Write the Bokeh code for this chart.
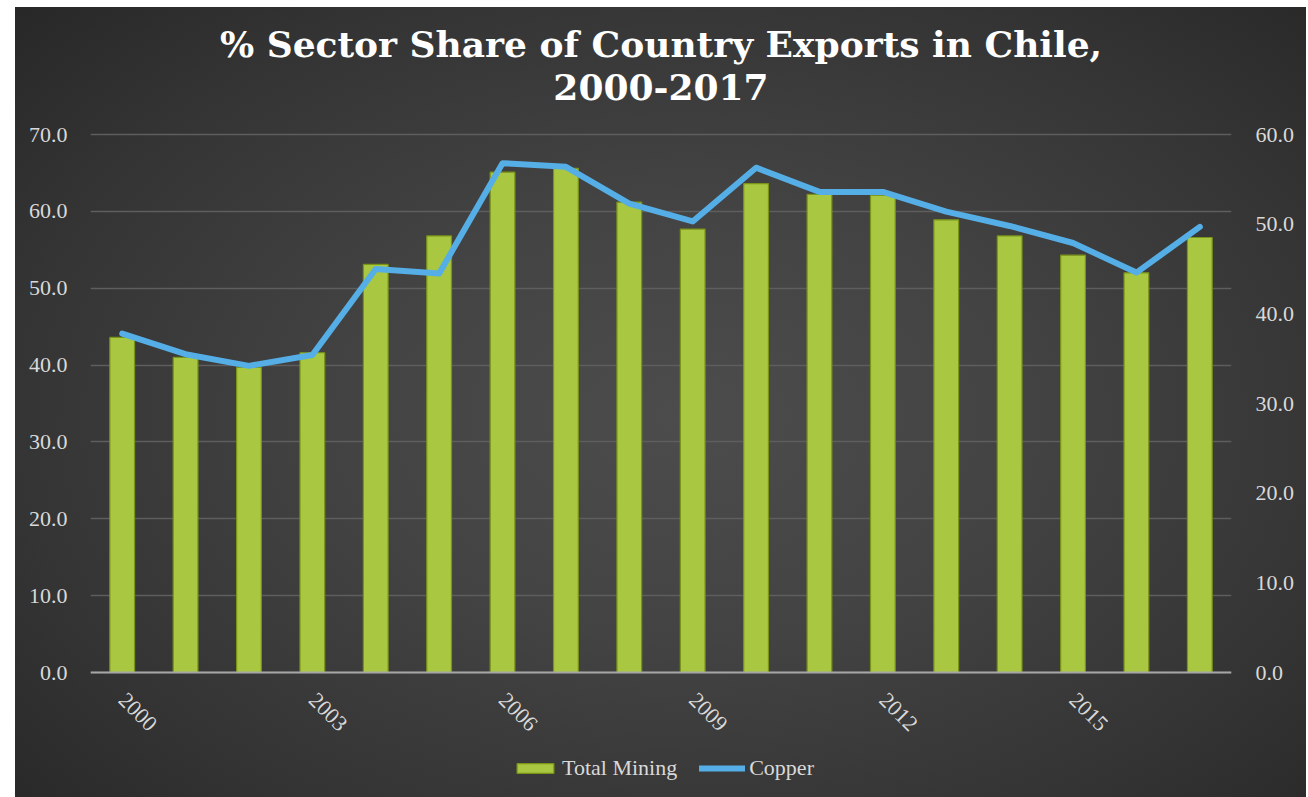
import math
from bokeh.plotting import figure
from bokeh.models import (Range1d, LinearAxis, FixedTicker, NumeralTickFormatter,
                          Legend, LegendItem, Label)
from bokeh.embed import file_html
from bokeh.resources import INLINE

# ---- data ----
years = [2000, 2001, 2002, 2003, 2004, 2005, 2006, 2007, 2008,
         2009, 2010, 2011, 2012, 2013, 2014, 2015, 2016, 2017]
total_mining = [43.6, 41.0, 39.7, 41.6, 53.1, 56.8, 65.1, 65.6, 61.2,
                57.7, 63.6, 62.2, 62.1, 58.9, 56.8, 54.3, 52.0, 56.6]
copper = [37.8, 35.5, 34.2, 35.4, 45.0, 44.5, 56.8, 56.4, 52.3,
          50.3, 56.3, 53.6, 53.6, 51.4, 49.8, 47.9, 44.6, 49.7]
x_tick_years = [2000, 2003, 2006, 2009, 2012, 2015]
left_ticks = [0, 10, 20, 30, 40, 50, 60, 70]
right_ticks = [0, 10, 20, 30, 40, 50, 60]
title_line1 = "% Sector Share of Country Exports in Chile,"
title_line2 = "2000-2017"

FONT = "Liberation Serif"
LABEL_COLOR = "#d9d9d9"

# layout geometry (pixels)
FRAME_W = 1141
FRAME_H = 790          # whole canvas height; the value axis occupies 538 px of it
AXIS_PX = 538          # pixel height of the 0..70 (left) / 0..60 (right) span
BELOW_PX = 125         # pixels below the zero line
ABOVE_PX = FRAME_H - AXIS_PX - BELOW_PX

left_max, right_max = 70, 60
lpx = AXIS_PX / left_max
rpx = AXIS_PX / right_max

p = figure(frame_width=FRAME_W, frame_height=FRAME_H, output_backend="svg",
           toolbar_location=None,
           x_range=Range1d(years[0] - 0.5, years[-1] + 0.5),
           y_range=Range1d(-BELOW_PX / lpx, left_max + ABOVE_PX / lpx),
           min_border_left=75, min_border_right=75, min_border_top=0,
           min_border_bottom=0)
p.margin = (7, 2, 0, 15)
p.title = None
p.styles = {"background": "radial-gradient(ellipse 75% 80% at 52% 52%, #4c4c4c 0%, #434343 35%, #343434 70%, #252525 100%)"}
p.background_fill_color = None
p.border_fill_color = None
p.outline_line_color = None

p.extra_y_ranges = {"copper": Range1d(-BELOW_PX / rpx, right_max + ABOVE_PX / rpx)}

bars = p.vbar(x=years, top=total_mining, width=0.39, bottom=0,
              fill_color="#a9c740", line_color="#7a9418", line_width=1.2)
line = p.line(x=years, y=copper, y_range_name="copper", line_color="#55aee6",
              line_width=6, line_join="round", line_cap="round")

# x axis sits on the zero line
xa = p.xaxis[0]
xa.fixed_location = 0
xa.ticker = FixedTicker(ticks=x_tick_years)
xa.major_label_orientation = -math.pi / 4
xa.major_tick_line_color = None
xa.minor_tick_line_color = None
xa.axis_line_color = "#a6a6a6"
xa.axis_line_width = 2
xa.major_label_text_font = FONT
xa.major_label_text_font_size = "22px"
xa.major_label_text_color = LABEL_COLOR
xa.major_label_standoff = 18

ya = p.yaxis[0]
ya.ticker = FixedTicker(ticks=left_ticks)
ya.formatter = NumeralTickFormatter(format="0.0")
ya.axis_line_color = None
ya.major_tick_line_color = None
ya.minor_tick_line_color = None
ya.major_label_text_font = FONT
ya.major_label_text_font_size = "22px"
ya.major_label_text_color = LABEL_COLOR
ya.major_label_standoff = 17

ra = LinearAxis(y_range_name="copper", ticker=FixedTicker(ticks=right_ticks),
                formatter=NumeralTickFormatter(format="0.0"))
ra.axis_line_color = None
ra.major_tick_line_color = None
ra.minor_tick_line_color = None
ra.major_label_text_font = FONT
ra.major_label_text_font_size = "22px"
ra.major_label_text_color = LABEL_COLOR
ra.major_label_standoff = 18
p.add_layout(ra, "right")

p.xgrid.grid_line_color = None
p.ygrid.grid_line_color = "#5e5e5e"
p.ygrid.grid_line_width = 1.5
p.ygrid.ticker = FixedTicker(ticks=left_ticks)

# title lines (screen units from the frame's bottom-left corner)
for txt, sy in ((title_line1, FRAME_H - 36), (title_line2, FRAME_H - 79)):
    p.add_layout(Label(x=FRAME_W / 2, y=sy, x_units="screen", y_units="screen",
                       text=txt, text_align="center", text_baseline="middle",
                       text_font="DejaVu Serif", text_font_size="36px",
                       text_font_style="bold", text_color="white"))

legend = Legend(items=[LegendItem(label="Total Mining", renderers=[bars]),
                       LegendItem(label="Copper", renderers=[line])],
                orientation="horizontal", location=(422, 16),
                background_fill_alpha=0, border_line_color=None,
                label_text_font=FONT, label_text_font_size="22px",
                label_text_color=LABEL_COLOR, glyph_width=46, glyph_height=12,
                label_standoff=4, spacing=22, margin=0, padding=0)
p.add_layout(legend, "center")

open("out.html", "w").write(file_html(p, INLINE))
